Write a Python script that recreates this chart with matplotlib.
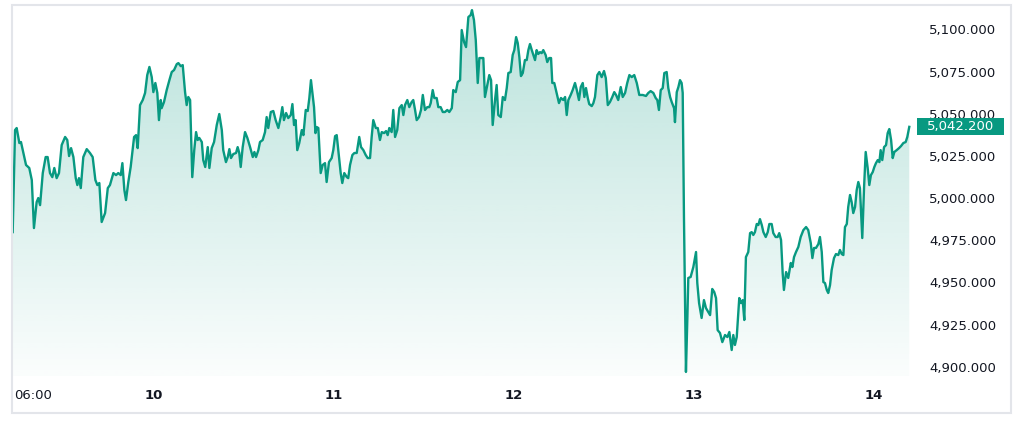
import matplotlib
matplotlib.use("Agg")
import matplotlib.pyplot as plt
import numpy as np
from matplotlib.patches import Rectangle
from matplotlib.transforms import blended_transform_factory, ScaledTranslation
from matplotlib.colors import to_rgb

# time in days of the month (fractional), price readings
times = [
    9.217, 9.230, 9.239, 9.254, 9.263, 9.273, 9.291, 9.309, 9.323, 9.335,
    9.350, 9.359, 9.369, 9.384, 9.400, 9.411, 9.424, 9.437, 9.448, 9.461,
    9.474, 9.489, 9.508, 9.520, 9.530, 9.541, 9.554, 9.567, 9.576, 9.585,
    9.595, 9.609, 9.628, 9.646, 9.661, 9.676, 9.687, 9.698, 9.711, 9.730,
    9.745, 9.757, 9.776, 9.791, 9.803, 9.817, 9.826, 9.837, 9.846, 9.859,
    9.872, 9.891, 9.902, 9.911, 9.924, 9.939, 9.952, 9.964, 9.976, 9.989,
    9.998, 10.009, 10.020, 10.029, 10.039, 10.044, 10.057, 10.072, 10.087, 10.100,
    10.113, 10.128, 10.137, 10.150, 10.161, 10.174, 10.183, 10.192, 10.202, 10.214,
    10.225, 10.235, 10.244, 10.253, 10.267, 10.275, 10.286, 10.300, 10.309, 10.322,
    10.335, 10.350, 10.364, 10.378, 10.386, 10.401, 10.411, 10.420, 10.429, 10.442,
    10.457, 10.466, 10.475, 10.483, 10.494, 10.507, 10.520, 10.535, 10.550, 10.559,
    10.568, 10.581, 10.590, 10.605, 10.618, 10.627, 10.636, 10.650, 10.664, 10.677,
    10.692, 10.705, 10.714, 10.723, 10.735, 10.747, 10.761, 10.770, 10.779, 10.788,
    10.797, 10.808, 10.822, 10.831, 10.844, 10.855, 10.864, 10.873, 10.890, 10.898,
    10.905, 10.914, 10.927, 10.938, 10.951, 10.960, 10.973, 10.988, 10.997, 11.007,
    11.016, 11.029, 11.038, 11.047, 11.058, 11.072, 11.080, 11.090, 11.103, 11.114,
    11.127, 11.141, 11.151, 11.164, 11.177, 11.188, 11.201, 11.210, 11.219, 11.233,
    11.244, 11.256, 11.266, 11.279, 11.290, 11.299, 11.308, 11.321, 11.330, 11.340,
    11.352, 11.364, 11.377, 11.386, 11.395, 11.408, 11.419, 11.432, 11.441, 11.451,
    11.460, 11.473, 11.484, 11.494, 11.506, 11.519, 11.530, 11.538, 11.549, 11.558,
    11.571, 11.580, 11.593, 11.605, 11.617, 11.630, 11.641, 11.655, 11.663, 11.677,
    11.688, 11.701, 11.710, 11.723, 11.734, 11.747, 11.760, 11.767, 11.778, 11.788,
    11.799, 11.808, 11.821, 11.830, 11.839, 11.849, 11.863, 11.873, 11.882, 11.895,
    11.904, 11.913, 11.927, 11.938, 11.950, 11.960, 11.969, 11.982, 11.993, 12.002,
    12.012, 12.021, 12.030, 12.039, 12.049, 12.061, 12.071, 12.080, 12.089, 12.099,
    12.108, 12.117, 12.126, 12.135, 12.145, 12.154, 12.163, 12.176, 12.185, 12.196,
    12.206, 12.213, 12.224, 12.237, 12.250, 12.261, 12.274, 12.284, 12.293, 12.302,
    12.315, 12.326, 12.339, 12.349, 12.361, 12.371, 12.382, 12.391, 12.400, 12.410,
    12.418, 12.432, 12.441, 12.450, 12.463, 12.474, 12.487, 12.500, 12.510, 12.521,
    12.533, 12.546, 12.557, 12.567, 12.579, 12.593, 12.604, 12.617, 12.629, 12.641,
    12.654, 12.668, 12.682, 12.696, 12.715, 12.733, 12.746, 12.759, 12.774, 12.787,
    12.796, 12.805, 12.815, 12.826, 12.835, 12.848, 12.857, 12.867, 12.876, 12.889,
    12.894, 12.904, 12.913, 12.922, 12.931, 12.937, 12.944, 12.955, 12.963, 12.968,
    12.981, 12.996, 13.011, 13.018, 13.028, 13.042, 13.055, 13.066, 13.079, 13.089,
    13.101, 13.112, 13.122, 13.131, 13.144, 13.157, 13.172, 13.185, 13.196, 13.209,
    13.218, 13.227, 13.237, 13.251, 13.261, 13.270, 13.279, 13.288, 13.301, 13.311,
    13.320, 13.329, 13.338, 13.348, 13.357, 13.366, 13.376, 13.385, 13.398, 13.409,
    13.418, 13.431, 13.440, 13.453, 13.464, 13.473, 13.483, 13.492, 13.499, 13.511,
    13.523, 13.537, 13.546, 13.555, 13.566, 13.579, 13.592, 13.607, 13.622, 13.634,
    13.648, 13.657, 13.666, 13.677, 13.690, 13.699, 13.709, 13.718, 13.727, 13.737,
    13.745, 13.755, 13.764, 13.777, 13.788, 13.801, 13.810, 13.820, 13.829, 13.838,
    13.848, 13.856, 13.866, 13.875, 13.884, 13.894, 13.903, 13.912, 13.921, 13.934,
    13.944, 13.953, 13.964, 13.973, 13.982, 13.992, 14.001, 14.010, 14.020, 14.029,
    14.036, 14.045, 14.055, 14.066, 14.075, 14.084, 14.094, 14.103, 14.112, 14.125,
    14.138, 14.149, 14.162, 14.175, 14.184, 14.195,
]
prices = [
    4979.8, 5040.3, 5041.5, 5032.6, 5033.2, 5028.4, 5019.6, 5017.8, 5010.7, 4982.2,
    4997.6, 5000.0, 4995.8, 5014.8, 5024.3, 5024.3, 5014.8, 5012.4, 5017.8, 5011.8,
    5014.8, 5031.4, 5036.2, 5034.4, 5024.9, 5029.6, 5024.3, 5011.8, 5007.7, 5011.8,
    5005.9, 5024.3, 5029.0, 5026.7, 5024.3, 5010.7, 5007.7, 5008.9, 4985.8, 4991.1,
    5005.9, 5007.7, 5014.8, 5013.6, 5014.8, 5013.6, 5020.7, 5004.7, 4998.8, 5009.5,
    5018.4, 5036.2, 5037.3, 5029.6, 5055.1, 5058.1, 5062.3, 5072.9, 5077.7, 5071.7,
    5062.8, 5068.2, 5062.3, 5046.2, 5058.1, 5053.3, 5056.9, 5064.0, 5069.9, 5074.7,
    5075.9, 5079.4, 5080.0, 5078.2, 5078.8, 5062.8, 5055.1, 5059.9, 5058.1, 5012.4,
    5028.4, 5039.1, 5034.4, 5035.6, 5033.2, 5022.5, 5018.4, 5030.2, 5017.8, 5029.6,
    5033.2, 5043.3, 5049.8, 5040.3, 5028.4, 5021.3, 5024.3, 5029.0, 5023.7, 5026.1,
    5026.7, 5030.2, 5026.7, 5018.4, 5030.2, 5039.1, 5035.6, 5030.2, 5024.3, 5027.3,
    5024.3, 5028.4, 5033.2, 5034.4, 5039.1, 5048.0, 5041.5, 5051.0, 5051.6, 5046.2,
    5041.5, 5048.0, 5053.9, 5046.2, 5050.4, 5047.4, 5049.2, 5055.7, 5043.3, 5046.2,
    5028.4, 5032.6, 5040.3, 5037.3, 5052.2, 5051.6, 5059.3, 5069.9, 5053.9, 5038.5,
    5042.1, 5041.5, 5014.8, 5019.6, 5020.7, 5009.5, 5021.3, 5023.7, 5028.4, 5036.7,
    5037.3, 5024.3, 5014.8, 5008.9, 5014.8, 5012.4, 5011.8, 5019.6, 5025.5, 5026.7,
    5026.7, 5036.2, 5030.2, 5028.4, 5025.5, 5023.7, 5023.7, 5036.2, 5046.2, 5041.5,
    5041.5, 5034.4, 5039.1, 5038.5, 5039.7, 5037.3, 5041.5, 5039.1, 5052.2, 5036.2,
    5040.3, 5053.3, 5055.1, 5049.2, 5055.1, 5058.1, 5053.9, 5056.9, 5058.1, 5052.2,
    5046.2, 5048.0, 5052.2, 5061.1, 5052.2, 5053.9, 5053.9, 5056.3, 5064.0, 5059.3,
    5059.3, 5053.9, 5053.9, 5051.0, 5051.0, 5052.2, 5051.0, 5053.3, 5064.0, 5062.8,
    5068.8, 5069.9, 5099.6, 5092.5, 5089.5, 5107.3, 5108.5, 5111.4, 5105.5, 5093.7,
    5068.2, 5083.0, 5083.0, 5083.0, 5059.9, 5065.2, 5072.9, 5069.9, 5043.3, 5058.1,
    5067.0, 5049.2, 5048.0, 5059.9, 5058.1, 5065.2, 5074.1, 5074.7, 5084.8, 5087.7,
    5095.4, 5091.9, 5083.6, 5072.3, 5074.1, 5081.8, 5081.8, 5087.7, 5091.3, 5087.7,
    5084.8, 5081.8, 5087.7, 5085.4, 5086.5, 5085.9, 5087.7, 5084.8, 5080.6, 5083.0,
    5083.0, 5068.2, 5068.2, 5062.3, 5056.3, 5059.3, 5058.1, 5059.9, 5049.2, 5058.1,
    5061.1, 5064.0, 5068.2, 5064.0, 5058.1, 5065.8, 5068.2, 5059.9, 5065.2, 5059.3,
    5055.7, 5054.5, 5056.3, 5059.9, 5072.9, 5074.7, 5071.7, 5075.3, 5071.1, 5055.1,
    5056.9, 5059.9, 5062.8, 5061.1, 5058.1, 5065.8, 5059.9, 5062.3, 5068.2, 5072.9,
    5071.7, 5072.9, 5068.2, 5061.1, 5061.1, 5060.5, 5062.3, 5063.4, 5062.3, 5059.3,
    5058.1, 5052.2, 5064.0, 5065.2, 5074.1, 5074.7, 5065.2, 5059.9, 5056.9, 5053.3,
    5045.0, 5062.8, 5065.8, 5069.9, 5068.2, 5062.3, 4988.7, 4896.9, 4929.5, 4952.6,
    4953.2, 4959.1, 4968.0, 4949.6, 4937.7, 4928.9, 4939.5, 4934.8, 4932.4, 4930.6,
    4946.1, 4944.3, 4940.7, 4921.7, 4920.0, 4914.6, 4918.8, 4917.6, 4920.6, 4909.9,
    4918.8, 4912.9, 4917.6, 4940.7, 4937.7, 4939.5, 4927.7, 4965.0, 4968.0, 4979.2,
    4979.8, 4978.1, 4979.8, 4984.6, 4984.0, 4987.5, 4984.0, 4979.8, 4976.9, 4979.8,
    4984.6, 4984.6, 4979.2, 4976.9, 4976.9, 4979.2, 4975.1, 4955.5, 4945.5, 4956.1,
    4952.6, 4961.5, 4959.1, 4965.0, 4968.0, 4971.0, 4976.9, 4981.0, 4982.8, 4981.0,
    4973.3, 4964.4, 4970.4, 4970.4, 4972.7, 4976.9, 4968.0, 4950.2, 4949.6, 4945.5,
    4943.7, 4948.4, 4957.3, 4964.4, 4966.8, 4966.2, 4969.2, 4966.8, 4966.2, 4982.8,
    4984.6, 4994.7, 5001.8, 4997.6, 4991.1, 4994.7, 5004.7, 5009.5, 5005.9, 4976.3,
    5006.5, 5027.3, 5017.8, 5007.7, 5013.6, 5015.4, 5018.4, 5020.7, 5022.5, 5021.3,
    5028.4, 5022.5, 5030.2, 5031.4, 5038.5, 5040.9, 5034.4, 5023.7, 5027.3, 5028.4,
    5029.6, 5030.8, 5032.6, 5033.2, 5036.2, 5042.2,
]
assert len(times) == len(prices)

last_price = 5042.2
y_ticks = [4900, 4925, 4950, 4975, 5000, 5025, 5050, 5075, 5100]
x_ticks = [9.25, 10, 11, 12, 13, 14]
x_labels = ["06:00", "10", "11", "12", "13", "14"]

teal = "#089981"
txt = "#131722"

fig = plt.figure(figsize=(10.24, 4.22), dpi=100)
ax = fig.add_axes([0.0124, 0.109, 0.8812, 0.879])
y0, y1 = 4894.5, 5114.4
x0, x1 = 9.217, 14.227
ax.set_xlim(x0, x1)
ax.set_ylim(y0, y1)

# gradient area under the line
fill = ax.fill_between(times, prices, y0, color="none", lw=0)
grad = np.zeros((256, 1, 4))
grad[:, :, :3] = to_rgb(teal)
grad[:, 0, 3] = np.linspace(0.28, 0.02, 256)
top = max(prices)
im = ax.imshow(grad, aspect="auto", extent=[x0, x1, y0, top],
               origin="upper", zorder=1, interpolation="bilinear")
im.set_clip_path(fill.get_paths()[0], transform=ax.transData)

ax.plot(times, prices, color=teal, lw=1.7, zorder=3, solid_joinstyle="round")

for s in ax.spines.values():
    s.set_visible(False)

ax.yaxis.tick_right()
ax.set_yticks(y_ticks)
ax.set_yticklabels([f"{v:,.3f}" for v in y_ticks])
ax.tick_params(axis="y", length=0, pad=10, labelsize=9.5, labelcolor=txt)
ax.set_xticks(x_ticks)
ax.set_xticklabels(x_labels)
ax.tick_params(axis="x", length=0, pad=9.5, labelsize=9.5, labelcolor=txt)
for i, lab in enumerate(ax.get_xticklabels()):
    if i == 0:
        lab.set_ha("left")
        lab.set_transform(lab.get_transform() +
                          ScaledTranslation(-5 / 100, 0, fig.dpi_scale_trans))
    else:
        lab.set_fontweight("bold")

# last price tag on the scale
tr = blended_transform_factory(fig.transFigure, ax.transData)
ax.add_patch(Rectangle((917 / 1024, last_price - 5.05), 87 / 1024, 10.1,
                       transform=tr, facecolor=teal, edgecolor="none",
                       clip_on=False, zorder=5))
ax.text(960.5 / 1024, last_price, f"{last_price:,.3f}", transform=tr,
        ha="center", va="center", color="white", fontsize=9.5,
        zorder=6, clip_on=False)

# outer frame
fig.add_artist(Rectangle((12 / 1024, 1 - 413 / 422), 999 / 1024, 408 / 422,
                         transform=fig.transFigure, fill=False,
                         edgecolor="#e3e5ea", lw=1.5))

fig.savefig("out.png", dpi=100)
